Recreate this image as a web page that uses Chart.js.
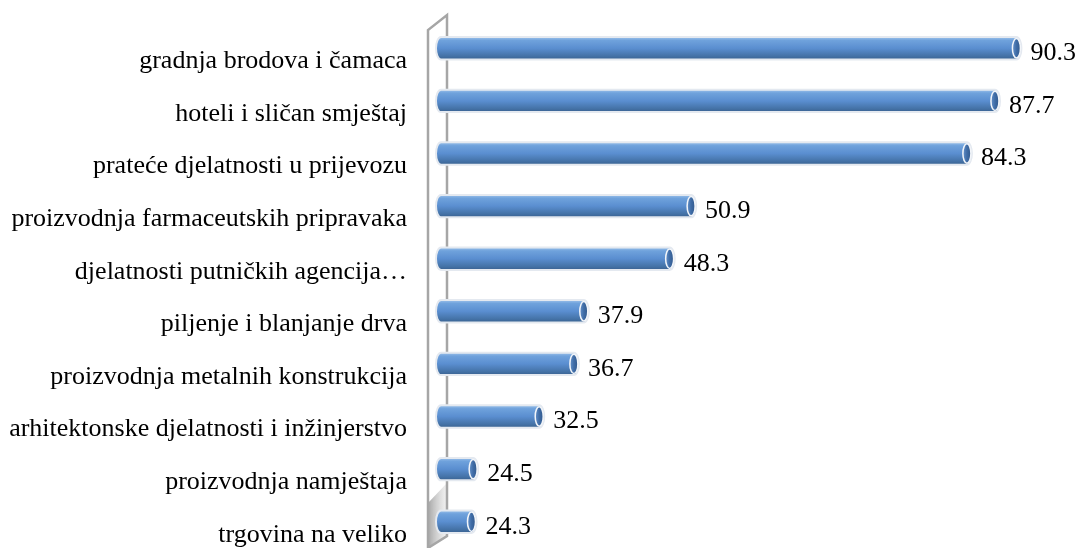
<!DOCTYPE html>
<html>
<head>
<meta charset="utf-8">
<script src="https://cdn.jsdelivr.net/npm/chart.js@4"></script>
<style>
  html, body { margin: 0; padding: 0; background: #fff; }
  #wrap { width: 1080px; height: 548px; }
</style>
</head>
<body>
<div id="wrap"><canvas id="grafico"></canvas></div>
<script>
// podaci s grafikona
const djelatnosti = [
    'gradnja brodova i čamaca',
    'hoteli i sličan smještaj',
    'prateće djelatnosti u prijevozu',
    'proizvodnja farmaceutskih pripravaka',
    'djelatnosti putničkih agencija…',
    'piljenje i blanjanje drva',
    'proizvodnja metalnih konstrukcija',
    'arhitektonske djelatnosti i inžinjerstvo',
    'proizvodnja namještaja',
    'trgovina na veliko'
];
const vrijednosti = [90.3, 87.7, 84.3, 50.9, 48.3, 37.9, 36.7, 32.5, 24.5, 24.3];
const osMin = 20;
const osMax = 98;

const fontSerif = "'Liberation Serif', 'DejaVu Serif', serif";

// zid iza stupaca (3D izgled)
const zid = {
    id: 'zid',
    beforeDatasetsDraw(chart) {
        const ctx = chart.ctx;
        const a = chart.chartArea;
        const L = a.left - 8, R = a.left + 11;
        const bottom = chart.height;
        ctx.save();
        // sjena pri dnu
        const g = ctx.createLinearGradient(L, 0, R, 0);
        g.addColorStop(0, 'rgba(150,150,150,0.85)');
        g.addColorStop(1, 'rgba(210,210,210,0.3)');
        ctx.fillStyle = g;
        ctx.beginPath();
        ctx.moveTo(L, bottom - 45);
        ctx.lineTo(R, bottom - 65);
        ctx.lineTo(R, bottom - 12);
        ctx.lineTo(L, bottom);
        ctx.closePath();
        ctx.fill();

        ctx.strokeStyle = '#a6a6a6';
        ctx.lineWidth = 2.5;
        ctx.beginPath();
        ctx.moveTo(L, bottom);
        ctx.lineTo(L, a.top + 8);
        ctx.lineTo(R, a.top - 7);
        ctx.lineTo(R, bottom - 12);
        ctx.lineTo(L, bottom);
        ctx.stroke();
        ctx.restore();
    }
};

// valjkasti stupci i vrijednosti
const valjci = {
    id: 'valjci',
    afterDatasetsDraw(chart) {
        const ctx = chart.ctx;
        const meta = chart.getDatasetMeta(0);
        ctx.save();
        meta.data.forEach(function (bar, i) {
            const x0 = Math.max(bar.base, chart.chartArea.left), x1 = bar.x;
            const h = bar.height;
            const y0 = bar.y - h / 2, y1 = bar.y + h / 2;
            const rx = 5;

            const g = ctx.createLinearGradient(0, y0, 0, y1);
            g.addColorStop(0, '#9cc1ea');
            g.addColorStop(0.15, '#6fa2dc');
            g.addColorStop(0.5, '#5a8ed0');
            g.addColorStop(0.85, '#4472a6');
            g.addColorStop(1, '#3a6190');

            // tijelo
            ctx.beginPath();
            ctx.moveTo(x1, y0);
            ctx.lineTo(x0 + rx, y0);
            ctx.ellipse(x0 + rx, bar.y, rx, h / 2, 0, -Math.PI / 2, Math.PI / 2, true);
            ctx.lineTo(x1, y1);
            ctx.ellipse(x1, bar.y, rx, h / 2, 0, Math.PI / 2, -Math.PI / 2, true);
            ctx.closePath();
            ctx.fillStyle = g;
            ctx.fill();
            ctx.lineWidth = 2;
            ctx.strokeStyle = '#e4e9f0';
            ctx.stroke();

            // kraj valjka
            const gc = ctx.createLinearGradient(x1 - rx, 0, x1 + rx, 0);
            gc.addColorStop(0, '#6e9bd3');
            gc.addColorStop(0.5, '#3f6ca6');
            gc.addColorStop(1, '#2f5586');
            ctx.beginPath();
            ctx.ellipse(x1, bar.y, rx - 1, h / 2 - 1.5, 0, 0, Math.PI * 2);
            ctx.fillStyle = gc;
            ctx.fill();
            ctx.lineWidth = 1.5;
            ctx.strokeStyle = '#f2f5f9';
            ctx.stroke();

            // vrijednost
            ctx.fillStyle = '#000';
            ctx.font = '26px ' + fontSerif;
            ctx.textAlign = 'left';
            ctx.textBaseline = 'middle';
            ctx.fillText(vrijednosti[i].toFixed(1), x1 + 14, bar.y + 5);
        });
        ctx.restore();
    }
};

const cty = document.getElementById('grafico');
new Chart(cty, {
    type: 'bar',
    data: {
        labels: djelatnosti,
        datasets: [{
            data: vrijednosti,
            backgroundColor: 'rgba(0,0,0,0)',
            borderWidth: 0,
            barPercentage: 0.85,
            categoryPercentage: 0.5
        }]
    },
    options: {
        indexAxis: 'y',
        responsive: true,
        maintainAspectRatio: false,
        animation: false,
        layout: { padding: { top: 22, right: 0, bottom: 0, left: 0 } },
        scales: {
            x: {
                display: false,
                min: osMin,
                max: osMax
            },
            y: {
                afterFit: function (s) {
                    s.width = 436;
                    s.paddingTop = 0;
                    s.paddingBottom = 0;
                },
                grid: { display: false },
                border: { display: false },
                ticks: {
                    padding: 21,
                    labelOffset: 13,
                    color: '#000',
                    font: { family: fontSerif, size: 26 }
                }
            }
        },
        plugins: {
            legend: { display: false },
            tooltip: { enabled: false }
        }
    },
    plugins: [zid, valjci]
});
</script>
</body>
</html>
